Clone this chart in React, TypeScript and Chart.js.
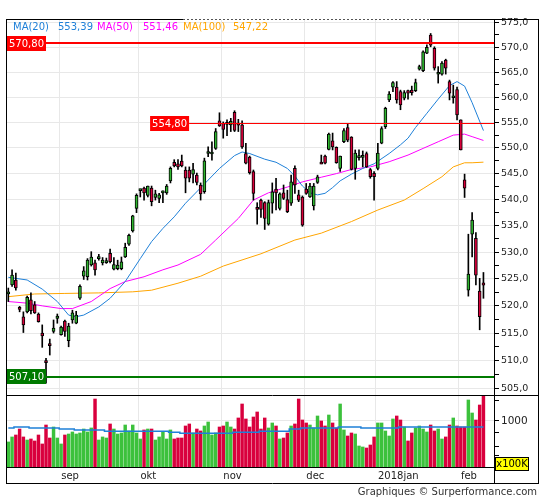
import { useEffect, useRef } from "react";
import { Chart, registerables } from "chart.js";
Chart.register(...registerables);

const FONT = "'DejaVu Sans', Verdana, sans-serif";

// ---- daily candles (index 0 = first session shown) ----
const opens = [522.3,523.9,524.8,519.6,518.0,518.9,521.1,520.2,518.5,515.0,
509.9,513.1,515.3,517.8,514.7,517.2,513.6,517.4,516.8,521.4,
525.5,525.4,527.6,528.0,528.9,528.0,528.1,529.8,526.8,526.9,
526.9,529.1,531.5,534.0,538.3,541.8,542.2,540.8,542.2,540.4,
540.2,541.4,541.3,543.6,547.2,546.9,547.45,545.7,545.7,544.9,
544.7,542.8,541.5,549.0,548.9,549.9,555.3,554.8,554.7,554.5,
557.0,554.8,554.5,548.9,548.2,545.4,538.4,539.9,539.4,535.3,
539.3,542.0,538.3,541.3,540.0,539.3,546.0,540.9,540.5,542.0,
540.5,538.8,543.3,547.1,548.4,549.7,551.4,550.1,546.0,551.2,
554.0,552.1,546.0,548.2,548.25,548.9,545.8,545.05,546.0,550.9,
554.15,559.45,562.0,562.0,561.1,559.8,561.3,561.4,561.3,565.6,
565.3,568.8,572.5,569.8,564.7,564.6,567.4,563.1,560.0,561.5,
555.5,543.8,522.9,533.4,532.6,522.75,524.1];
const highs = [523.3,526.7,526.1,519.9,518.9,521.8,522.4,520.8,518.7,516.5,
510.4,513.9,517.4,518.5,516.3,517.4,516.8,519.2,519.0,523.9,
527.3,528.8,530.1,528.5,529.6,529.0,528.9,530.6,529.0,528.5,
529.1,531.7,533.4,537.0,541.1,542.0,542.4,542.6,542.6,541.8,
541.2,541.7,542.9,546.3,547.7,547.7,548.6,546.3,546.3,547.0,
545.1,543.2,548.0,550.2,551.2,553.8,556.9,555.1,555.5,555.8,
557.3,555.6,555.3,550.9,548.4,545.7,539.4,540.1,539.6,539.9,
543.2,544.1,541.3,542.8,541.8,544.7,546.5,541.8,540.7,543.1,
543.1,543.1,544.7,548.6,548.6,552.9,552.9,550.2,548.4,553.8,
554.8,552.2,549.6,549.6,549.4,549.2,546.0,545.4,550.9,554.15,
558.0,561.1,563.1,563.1,561.4,561.3,561.4,562.2,563.6,566.4,
569.3,570.5,572.8,570.1,566.1,567.1,567.6,563.4,562.4,562.0,
555.5,544.9,533.4,537.5,533.7,525.1,526.2];
const lows = [520.8,523.6,522.9,518.9,515.1,518.7,518.5,518.6,517.0,512.4,
505.9,511.0,515.0,516.8,514.6,514.4,512.5,516.8,516.7,521.2,
524.9,524.8,527.4,525.7,528.5,527.6,527.9,528.0,526.7,526.7,
526.7,529.0,531.3,533.8,537.5,540.5,539.9,540.5,538.8,539.9,
539.4,539.4,541.0,543.2,546.3,545.8,546.3,541.3,543.4,543.2,
542.8,539.9,541.2,548.3,547.6,549.7,554.2,551.9,552.4,553.2,
553.2,553.2,549.9,546.9,544.9,539.9,535.3,536.6,534.3,535.1,
537.4,538.0,538.0,540.0,537.5,538.9,541.2,539.6,534.9,541.0,
540.4,538.0,543.1,546.9,546.9,549.6,549.6,547.0,545.4,551.0,
551.2,545.7,543.9,547.6,546.3,546.2,544.1,539.9,545.7,550.8,
553.8,559.1,561.1,558.8,557.5,559.45,559.6,560.4,561.1,565.4,
565.1,568.7,570.1,565.4,562.8,564.4,564.6,559.45,558.8,555.5,
549.6,540.4,521.8,529.1,523.9,515.6,521.4];
const closes = [522.5,525.7,523.3,519.5,516.5,521.6,519.1,518.7,517.1,514.5,
509.7,512.7,515.9,518.0,516.1,515.3,516.3,518.7,518.3,523.6,
526.5,528.5,529.1,526.7,529.1,528.5,528.4,528.2,527.7,527.6,
528.2,530.9,533.2,536.9,540.8,542.0,541.3,542.6,539.6,541.1,
540.9,541.6,542.6,546.0,546.5,546.3,546.5,544.1,544.1,545.8,
543.3,541.1,547.5,549.2,549.1,553.2,554.3,553.6,554.9,555.2,
553.4,554.5,550.2,547.0,545.2,541.2,538.2,538.1,536.4,539.4,
541.5,541.3,541.1,540.2,537.7,543.4,542.8,539.9,535.1,541.2,
542.6,542.6,544.4,546.95,547.0,552.7,550.2,547.1,548.4,553.4,
551.5,545.8,549.0,548.4,548.45,546.3,544.4,544.4,549.0,553.8,
557.8,560.6,562.9,559.45,558.45,560.9,560.8,560.9,562.9,566.1,
569.1,570.0,570.45,565.8,564.85,566.8,565.8,560.8,560.15,556.5,
549.6,542.2,525.9,536.1,525.7,518.0,524.0];

// volume in units of 100K
const volumes = [658,727,756,852,727,684,698,671,756,632,
923,712,887,712,632,756,771,803,771,787,
852,803,870,1551,684,727,712,942,852,771,
787,923,819,923,787,698,836,852,852,684,
727,803,698,836,698,712,712,905,942,787,
852,819,905,980,756,787,887,905,980,887,
852,1062,1404,1041,887,1083,1197,852,1062,870,
961,905,698,712,787,905,942,1551,1020,961,
923,870,1105,1000,905,1127,961,870,1404,836,
741,787,771,607,595,583,619,727,961,961,
819,741,1041,1105,1020,887,671,787,870,905,
852,803,923,819,852,698,727,923,1062,905,
887,887,1521,1173,1020,1376,1658];
const volumeAvg = [870,870,887,887,887,887,870,870,870,870,
870,870,870,870,852,852,852,852,836,836,
836,836,836,836,836,836,814,814,814,814,
814,814,814,814,814,814,814,814,814,814,
814,814,814,797,797,797,782,782,782,782,
782,782,782,782,782,782,782,782,782,782,
797,797,797,797,797,797,797,814,814,814,
814,814,814,814,814,852,852,852,870,870,
870,870,870,870,870,870,870,870,887,887,
887,887,887,887,870,870,870,870,870,870,
870,870,870,870,887,887,887,887,887,887,
887,887,887,887,887,887,887,887,887,887,
887,887,887,887,887,887,887];

// moving averages: [session index, value]
const ma20 = [[0,525.3],[5,524.8],[9,523.1],[13,520.8],[16,518.3],[18,518.0],[20,518.3],[24,519.8],[27,521.4],[31,524.5],[35,528.8],[38,532.0],[41,534.5],[44,536.7],[47,539.3],[52,543.0],[56,546.0],[60,548.5],[62,549.2],[64,548.9],[68,547.8],[71,547.2],[74,546.0],[76,544.5],[78,542.6],[80,541.3],[82,540.9],[84,541.2],[86,542.3],[88,543.6],[91,544.9],[94,546.0],[97,546.9],[101,548.9],[104,550.6],[106,551.9],[108,554.0],[111,556.8],[114,559.6],[117,562.3],[119,563.1],[121,562.2],[123,558.9],[126,553.39]];
const ma50 = [[0,520.8],[5,520.5],[9,520.0],[14,519.5],[17,519.5],[22,520.8],[27,523.2],[31,524.5],[36,525.4],[41,526.7],[45,527.6],[51,529.6],[55,532.3],[61,536.4],[65,539.9],[69,541.3],[74,542.4],[78,543.4],[83,544.3],[87,545.0],[91,545.8],[96,546.3],[101,547.3],[106,548.6],[110,549.9],[114,551.2],[118,552.5],[121,552.7],[123,552.2],[126,551.46]];
const ma100 = [[0,521.7],[7,522.2],[15,522.3],[24,522.4],[33,522.6],[38,522.9],[45,524.2],[51,525.5],[57,527.4],[67,529.7],[76,532.3],[83,533.6],[91,535.8],[98,538.0],[105,539.9],[110,542.1],[115,544.4],[118,546.3],[121,547.1],[123,547.1],[126,547.22]];
const maNames = ["MA(20)", "MA(50)", "MA(100)"];
const maLast = [553.39, 551.46, 547.22];

const monthStarts = [14, 35, 57, 79, 98, 120];
const monthLabels = ["sep", "okt", "nov", "dec", "2018jan", "feb"];

const priceMajorTicks = [505,510,515,520,525,530,535,540,545,550,555,560,565,570,575];
const priceMinorTicks = [507.5,512.5,517.5,522.5,527.5,532.5,537.5,542.5,547.5,552.5,557.5,562.5,567.5,572.5];
const volTicks = [500, 600, 800, 1000, 1500];
const volLabelled = [1000];

const refLevels = [570.8, 554.8, 507.1];
const refTagAt = [null, 37.6, null];

// ---- styles ----
const C_GREEN = "#2fb52f";
const C_RED = "#d8003a";
const V_GREEN = "#3cc13c";
const V_RED = "#d9003d";
const C_MA = ["#1f80d8", "#ff00ff", "#ffa500"];
const GRID = "#e8e8e8";
const REF_COLORS = ["#ff0000", "#ff0000", "#007a00"];
const REF_WIDTHS = [2, 1, 2];
const LEGEND_X = [13, 58, 97, 143, 183, 233];
const X_MIN = -0.345;
const X_MAX = 128.8;
const P_MIN = 503.8;
const P_MAX = 575.55;
const V_MIN = 399;
const V_MAX = 1647;

const idx = opens.map((_, i) => i);
const isUp = (i: number) => closes[i] >= opens[i];
const fmt1 = (v: number) => v.toFixed(1).replace(".", ",");
const fmt2 = (v: number) => v.toFixed(2).replace(".", ",");

function noPad(s: any) {
  s.paddingTop = 0;
  s.paddingBottom = 0;
  s.paddingLeft = 0;
  s.paddingRight = 0;
}

function xScale(height: number, withLabels: boolean): any {
  return {
    type: "linear",
    min: X_MIN,
    max: X_MAX,
    offset: false,
    afterBuildTicks: (s: any) => {
      s.ticks = monthStarts.map((m) => ({ value: m - 0.5 }));
    },
    afterFit: (s: any) => {
      s.height = height;
      noPad(s);
    },
    ticks: withLabels
      ? {
          autoSkip: false,
          maxRotation: 0,
          align: "start",
          labelOffset: 2,
          padding: 3,
          color: "#222",
          font: { size: 10, family: FONT },
          callback: (_v: any, i: number) => monthLabels[i],
        }
      : { display: false },
    grid: { color: GRID, drawTicks: false, offset: false },
    border: { display: false },
  };
}

function yScale(min: number, max: number, ticks: number[], labelled: Set<number>, fmt: (v: number) => string, size: number): any {
  return {
    type: "logarithmic",
    position: "right",
    min,
    max,
    afterBuildTicks: (s: any) => {
      s.ticks = ticks.map((v) => ({ value: v }));
    },
    afterFit: (s: any) => {
      s.width = 51;
      noPad(s);
    },
    ticks: {
      autoSkip: false,
      padding: 2,
      color: "#222",
      font: { size, family: FONT },
      callback: (v: any) => (labelled.has(v) ? fmt(v) : ""),
    },
    grid: {
      color: (c: any) => (c.tick && labelled.has(c.tick.value) ? GRID : "rgba(0,0,0,0)"),
      tickColor: "#000",
      tickLength: 5,
    },
    border: { display: true, color: "#000", width: 1 },
  };
}

function priceConfig(): any {
  const bodies = idx.map((i) => {
    let lo = Math.min(opens[i], closes[i]);
    let hi = Math.max(opens[i], closes[i]);
    if (hi - lo < 0.4) {
      const m = (hi + lo) / 2;
      lo = m - 0.2;
      hi = m + 0.2;
    }
    return { x: i, y: [lo, hi] };
  });
  const wicks = idx.map((i) => ({ x: i, y: [lows[i], highs[i]] }));
  const maSets = [ma20, ma50, ma100].map((m, k) => ({
    type: "line",
    data: m.map(([x, y]) => ({ x, y })),
    borderColor: C_MA[k],
    borderWidth: 1,
    pointRadius: 0,
    tension: 0,
  }));
  const decor = {
    id: "priceDecor",
    afterDatasetsDraw(chart: any) {
      const { ctx, chartArea: a, scales } = chart;
      ctx.save();
      ctx.font = `10px ${FONT}`;
      ctx.textBaseline = "middle";
      refLevels.forEach((v, k) => {
        const y = scales.y.getPixelForValue(v);
        const x0 = refTagAt[k] == null ? a.left : scales.x.getPixelForValue(refTagAt[k]);
        const txt = fmt2(v);
        const w = Math.round(ctx.measureText(txt).width) + 4;
        const yl = REF_WIDTHS[k] === 1 ? Math.round(y) + 0.5 : Math.round(y);
        ctx.strokeStyle = REF_COLORS[k];
        ctx.lineWidth = REF_WIDTHS[k];
        ctx.beginPath();
        ctx.moveTo(x0 + w, yl);
        ctx.lineTo(a.right, yl);
        ctx.stroke();
        ctx.fillStyle = REF_COLORS[k];
        const top = Math.round(y - 7.5);
        ctx.fillRect(x0, top, w, 15);
        ctx.fillStyle = "#ffffff";
        ctx.textAlign = "left";
        ctx.fillText(txt, x0 + 2, top + 8);
      });
      maNames.forEach((n, k) => {
        ctx.fillStyle = C_MA[k];
        ctx.fillText(n, LEGEND_X[2 * k], 27);
        ctx.fillText(fmt2(maLast[k]), LEGEND_X[2 * k + 1], 27);
      });
      ctx.restore();
    },
    afterDraw(chart: any) {
      const { ctx } = chart;
      ctx.save();
      ctx.strokeStyle = "#000";
      ctx.lineWidth = 1;
      ctx.beginPath();
      ctx.moveTo(6.5, 19);
      ctx.lineTo(6.5, 396);
      ctx.moveTo(538.5, 19);
      ctx.lineTo(538.5, 396);
      ctx.moveTo(6, 395.5);
      ctx.lineTo(539, 395.5);
      ctx.moveTo(6, 19.5);
      ctx.lineTo(183, 19.5);
      ctx.moveTo(430, 19.5);
      ctx.lineTo(539, 19.5);
      ctx.stroke();
      ctx.strokeStyle = "#555";
      ctx.setLineDash([2, 2]);
      ctx.beginPath();
      ctx.moveTo(183, 19.5);
      ctx.lineTo(430, 19.5);
      ctx.stroke();
      ctx.restore();
    },
  };
  const majorSet = new Set(priceMajorTicks);
  const allTicks = [...priceMajorTicks, ...priceMinorTicks].sort((a, b) => a - b);
  return {
    type: "bar",
    data: {
      datasets: [
        {
          data: bodies,
          backgroundColor: idx.map((i) => (isUp(i) ? C_GREEN : C_RED)),
          borderColor: "#000",
          borderWidth: 1,
          borderSkipped: false,
          barThickness: 3,
          grouped: false,
        },
        {
          data: wicks,
          backgroundColor: "#000",
          borderWidth: 0,
          barThickness: 1,
          grouped: false,
        },
        ...maSets,
      ],
    },
    options: {
      responsive: false,
      animation: false,
      events: [],
      layout: { padding: { left: 7, top: 20, right: 0, bottom: 1 } },
      plugins: { legend: { display: false }, tooltip: { enabled: false } },
      scales: {
        x: xScale(0, false),
        y: yScale(P_MIN, P_MAX, allTicks, majorSet, fmt1, 9.5),
      },
    },
    plugins: [decor],
  };
}

function volConfig(): any {
  const decor = {
    id: "volDecor",
    afterDraw(chart: any) {
      const { ctx } = chart;
      ctx.save();
      ctx.strokeStyle = "#000";
      ctx.lineWidth = 1;
      ctx.beginPath();
      ctx.moveTo(6.5, 0);
      ctx.lineTo(6.5, 89);
      ctx.moveTo(538.5, 0);
      ctx.lineTo(538.5, 89);
      ctx.moveTo(6, 72.5);
      ctx.lineTo(495, 72.5);
      ctx.moveTo(6, 88.5);
      ctx.lineTo(539, 88.5);
      ctx.moveTo(494.5, 72);
      ctx.lineTo(494.5, 89);
      ctx.stroke();
      ctx.fillStyle = "#ffff00";
      ctx.fillRect(495, 62, 34, 14);
      ctx.strokeRect(495.5, 62.5, 33, 13);
      ctx.fillStyle = "#000";
      ctx.font = `10px ${FONT}`;
      ctx.textAlign = "center";
      ctx.textBaseline = "middle";
      ctx.fillText("x100K", 512, 69.5);
      ctx.restore();
    },
  };
  const labelled = new Set(volLabelled);
  return {
    type: "bar",
    data: {
      datasets: [
        {
          type: "line",
          data: idx.map((i) => ({ x: i, y: volumeAvg[i] })),
          borderColor: C_MA[0],
          borderWidth: 1.5,
          pointRadius: 0,
          stepped: "middle",
        },
        {
          data: idx.map((i) => ({ x: i, y: volumes[i] })),
          backgroundColor: idx.map((i) => (isUp(i) ? V_GREEN : V_RED)),
          borderWidth: 0,
          barThickness: 2.8,
          grouped: false,
        },
      ],
    },
    options: {
      responsive: false,
      animation: false,
      events: [],
      layout: { padding: { left: 7, top: 1, right: 0, bottom: 0 } },
      plugins: { legend: { display: false }, tooltip: { enabled: false } },
      scales: {
        x: xScale(18, true),
        y: yScale(V_MIN, V_MAX, volTicks, labelled, (v) => String(v), 10.5),
      },
    },
    plugins: [decor],
  };
}

export default function App() {
  const priceRef = useRef<HTMLCanvasElement>(null);
  const volRef = useRef<HTMLCanvasElement>(null);
  useEffect(() => {
    const pc = new Chart(priceRef.current as HTMLCanvasElement, priceConfig());
    const vc = new Chart(volRef.current as HTMLCanvasElement, volConfig());
    return () => {
      pc.destroy();
      vc.destroy();
    };
  }, []);
  return (
    <div style={{ position: "absolute", left: 0, top: 0, width: 545, height: 500, background: "#fff", overflow: "hidden" }}>
      <canvas ref={priceRef} width={545} height={396} style={{ position: "absolute", left: 0, top: 0 }} />
      <canvas ref={volRef} width={545} height={90} style={{ position: "absolute", left: 0, top: 395 }} />
      <div
        style={{
          position: "absolute",
          left: 300,
          top: 485,
          width: 237,
          textAlign: "right",
          fontFamily: FONT,
          fontSize: 10,
          lineHeight: "14px",
          color: "#333",
        }}
      >
        Graphiques © Surperformance.com
      </div>
    </div>
  );
}
